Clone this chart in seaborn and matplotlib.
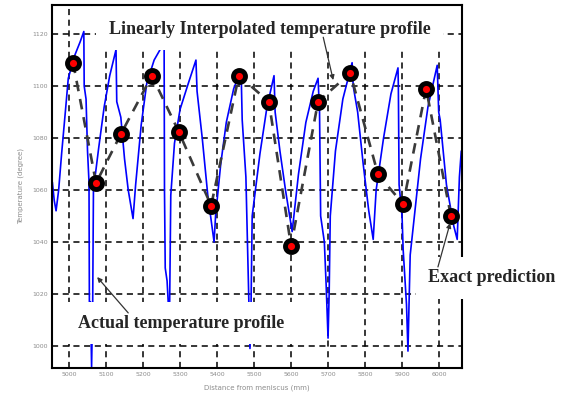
import matplotlib
matplotlib.use("Agg")
import matplotlib.pyplot as plt
import seaborn as sns
import pandas as pd

# ---- data ----
actual_x = [4955, 4960, 4965, 4972, 4980, 4990, 4998, 5016, 5030, 5040,
            5041, 5046, 5050, 5054, 5055, 5058, 5061, 5064, 5066,
            5080, 5095, 5110, 5127,
            5129, 5140, 5150, 5160, 5173,
            5180, 5195, 5210, 5230, 5250, 5257,
            5258, 5260, 5265, 5268, 5272, 5275,
            5285, 5300, 5320, 5343,
            5346, 5360, 5375, 5392,
            5396, 5410, 5425, 5445, 5465,
            5468, 5478, 5483, 5486, 5489, 5492, 5495,
            5516, 5535, 5554,
            5557, 5570, 5585, 5603,
            5620, 5640, 5660, 5673,
            5677, 5680, 5690, 5695, 5700, 5703, 5706,
            5720, 5740, 5765,
            5768, 5780, 5795, 5810, 5822,
            5830, 5850, 5870, 5889,
            5890, 5892, 5900, 5903, 5912, 5916, 5919, 5922,
            5950, 5970, 5995,
            5999, 6003, 6020, 6040, 6049,
            6055, 6060]
actual_y = [1063, 1056, 1052, 1060, 1074, 1090, 1103, 1112, 1117, 1121,
            1100, 1095, 1075, 1063, 1017, 1017, 992, 1017, 1060,
            1076, 1092, 1104, 1114,
            1094, 1088, 1072, 1060, 1049,
            1062, 1085, 1101, 1110, 1115, 1115,
            1060, 1030, 1025, 1017, 1017, 1058,
            1078, 1091, 1100, 1110,
            1098, 1080, 1058, 1040,
            1050, 1070, 1086, 1099, 1106,
            1087, 1065, 1035, 1017, 999, 1017, 1050,
            1074, 1092, 1104,
            1090, 1075, 1060, 1044,
            1066, 1086, 1098, 1103,
            1090, 1050, 1040, 1023, 1003, 1020, 1050,
            1075, 1095, 1109,
            1100, 1090, 1070, 1052, 1041,
            1060, 1080, 1097, 1107,
            1100, 1062, 1050, 1037, 1016, 998, 1017, 1035,
            1072, 1092, 1108,
            1090, 1087, 1062, 1046, 1041,
            1065, 1075]

pred_x = [5011, 5073, 5140, 5224, 5297, 5384, 5459, 5540, 5600, 5673,
          5760, 5835, 5903, 5965, 6032]
pred_y = [1109, 1062.7, 1081.5, 1104, 1082.3, 1054, 1104, 1094, 1038.5, 1094,
          1105, 1066, 1054.6, 1099, 1050]

x_ticks = [5000, 5100, 5200, 5300, 5400, 5500, 5600, 5700, 5800, 5900, 6000]
y_ticks = [1000, 1020, 1040, 1060, 1080, 1100, 1120]

label_interp = "Linearly Interpolated temperature profile"
label_actual = "Actual temperature profile"
label_exact = "Exact prediction"
x_label = "Distance from meniscus (mm)"
y_label = "Temperature (degree)"

df_actual = pd.DataFrame({"x": actual_x, "y": actual_y})
df_pred = pd.DataFrame({"x": pred_x, "y": pred_y})

sns.set_style("white")
plt.rcParams["font.family"] = ["DejaVu Sans"]

fig = plt.figure(figsize=(5.64, 3.94), dpi=100)
ax = fig.add_axes([52 / 564, 1 - 368 / 394, 410 / 564, 363 / 394])

sns.lineplot(data=df_actual, x="x", y="y", ax=ax, color="#0000ff",
             linewidth=1.2, sort=False, estimator=None, zorder=2)
sns.lineplot(data=df_pred, x="x", y="y", ax=ax, color="#3a3a3a",
             linewidth=1.9, sort=False, estimator=None, zorder=3,
             dashes=False, linestyle=(0, (4, 3)))
sns.scatterplot(data=df_pred, x="x", y="y", ax=ax, color="#ff0000",
                s=75, edgecolor="black", linewidth=3.5, zorder=4)

ax.set_xlim(4954, 6062)
ax.set_ylim(991.5, 1131.2)
ax.set_xticks(x_ticks)
ax.set_yticks(y_ticks)
ax.grid(True, color="black", linestyle=(0, (4, 3)), linewidth=1.1)
for s in ax.spines.values():
    s.set_color("black")
    s.set_linewidth(1.5)
ax.tick_params(direction="in", length=3, width=1, colors="black",
               labelsize=4.5, labelcolor="#8c8c8c", pad=3)
ax.set_xlabel(x_label, fontsize=5, color="#8c8c8c", labelpad=5)
ax.set_ylabel(y_label, fontsize=5, color="#8c8c8c", labelpad=6)

serif = ["Liberation Serif", "DejaVu Serif"]
box = dict(boxstyle="square,pad=0.7", facecolor="white", edgecolor="none")
ax.text(5543, 1121.9, label_interp, fontsize=13, fontweight="bold",
        family=serif, ha="center", va="center", bbox=box, zorder=5)
ax.text(5303, 1008.8, label_actual, fontsize=13, fontweight="bold",
        family=serif, ha="center", va="center", bbox=box, zorder=5)
ax.text(6143, 1026.2, label_exact, fontsize=13, fontweight="bold",
        family=serif, ha="center", va="center", bbox=box, zorder=5,
        clip_on=False)

arrow = dict(arrowstyle="-|>", color="#333333", lw=0.9, mutation_scale=7,
             shrinkA=0, shrinkB=0)
ax.annotate("", xy=(5714, 1102.3), xytext=(5687, 1118.8), arrowprops=arrow,
            zorder=6)
ax.annotate("", xy=(5076, 1026.5), xytext=(5160, 1012.7), arrowprops=arrow,
            zorder=6)
ax.annotate("", xy=(6030, 1047.3), xytext=(5997, 1030.4), arrowprops=arrow,
            zorder=6, annotation_clip=False)

fig.savefig("out.png", dpi=100)
